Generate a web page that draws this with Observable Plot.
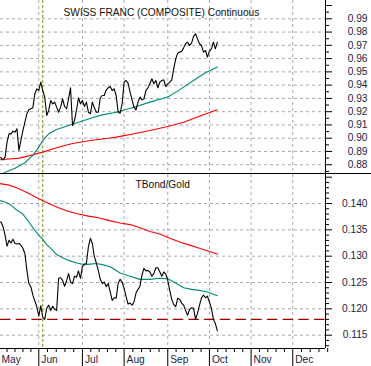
<!DOCTYPE html>
<html>
<head>
<meta charset="utf-8">
<script src="https://cdn.jsdelivr.net/npm/d3@7"></script>
<script src="https://cdn.jsdelivr.net/npm/@observablehq/plot@0.6"></script>
<style>
  html, body { margin: 0; padding: 0; background: #ffffff; }
  #chart { width: 371px; height: 366px; position: relative; overflow: hidden; background: #fff; }
  #chart svg { display: block; }
  .divider { width: 371px; height: 1px; background: #000; }
</style>
</head>
<body>
<div id="chart"></div>
<script>
// ---- x axis: trading-session index, 2010 (0 = May 3) ----
const monthNames  = ["May", "Jun", "Jul", "Aug", "Sep", "Oct", "Nov", "Dec"];
const monthStarts = [0, 20, 42, 63, 85, 106, 127, 148];
const nextYearStart = 170;
const eventDay = 22;

// ---- top panel: Swiss franc (composite) continuous ----
const chfTitle = "SWISS FRANC (COMPOSITE) Continuous";
const chfTickLabels = [0.88, 0.89, 0.90, 0.91, 0.92, 0.93, 0.94, 0.95, 0.96, 0.97, 0.98, 0.99];
const chfClose = [
  0.8857, 0.8852, 0.8837, 0.8857, 0.8970, 0.9033, 0.9033, 0.9053, 0.9046, 0.9071,
  0.8908, 0.8983, 0.9058, 0.9121, 0.9184, 0.9214, 0.9222, 0.9229, 0.9335, 0.9372,
  0.9360, 0.9423, 0.9360, 0.9310, 0.9171, 0.9209, 0.9284, 0.9259, 0.9272, 0.9234,
  0.9196, 0.9234, 0.9297, 0.9239, 0.9222, 0.9297, 0.9380, 0.9096, 0.9134, 0.9209,
  0.9305, 0.9259, 0.9284, 0.9239, 0.9272, 0.9196, 0.9184, 0.9272, 0.9229, 0.9196,
  0.9196, 0.9305, 0.9322, 0.9322, 0.9365, 0.9380, 0.9390, 0.9360, 0.9372, 0.9322,
  0.9196, 0.9189, 0.9259, 0.9423, 0.9435, 0.9415, 0.9347, 0.9289, 0.9234, 0.9214,
  0.9272, 0.9310, 0.9289, 0.9297, 0.9360, 0.9380, 0.9410, 0.9448, 0.9410, 0.9435,
  0.9380, 0.9423, 0.9435, 0.9440, 0.9390, 0.9410, 0.9423, 0.9440, 0.9523, 0.9598,
  0.9641, 0.9649, 0.9654, 0.9681, 0.9712, 0.9724, 0.9699, 0.9717, 0.9767, 0.9787,
  0.9749, 0.9712, 0.9699, 0.9649, 0.9661, 0.9611, 0.9656, 0.9674, 0.9724, 0.9674,
  0.9724
];
const chfMidDays = [0, 3, 8, 13, 17, 20, 22, 25, 29, 35, 42, 47, 52, 59, 68, 76, 85, 90, 98, 104, 110];
const chfMidAvg  = [0.8710, 0.8744, 0.8774, 0.8815, 0.8870, 0.8933, 0.8983, 0.9033, 0.9066, 0.9096,
                    0.9129, 0.9154, 0.9176, 0.9196, 0.9234, 0.9272, 0.9310, 0.9355, 0.9435, 0.9493, 0.9536];
const chfLongDays = [0, 10, 15, 22, 29, 37, 46, 56, 59, 68, 76, 85, 93, 102, 110];
const chfLongAvg  = [0.8837, 0.8850, 0.8867, 0.8895, 0.8928, 0.8960, 0.8983, 0.9001, 0.9008,
                     0.9033, 0.9058, 0.9088, 0.9121, 0.9171, 0.9214];

// ---- bottom panel: TBond / Gold ratio ----
const tbgTitle = "TBond/Gold";
const tbgTickLabels = [0.115, 0.120, 0.125, 0.130, 0.135, 0.140];
const tbgSupport = 0.118;
const tbgClose = [
  0.1365, 0.1365, 0.1356, 0.1340, 0.1319, 0.1330, 0.1325, 0.1332, 0.1324, 0.1323,
  0.1324, 0.1321, 0.1315, 0.1305, 0.1273, 0.1248, 0.1242, 0.1226, 0.1215, 0.1204,
  0.1186, 0.1206, 0.1184, 0.1180, 0.1201, 0.1207, 0.1197, 0.1205, 0.1199, 0.1197,
  0.1258, 0.1259, 0.1254, 0.1243, 0.1253, 0.1267, 0.1251, 0.1248, 0.1262, 0.1260,
  0.1272, 0.1258, 0.1280, 0.1285, 0.1286, 0.1318, 0.1334, 0.1324, 0.1299, 0.1287,
  0.1273, 0.1256, 0.1248, 0.1251, 0.1242, 0.1248, 0.1232, 0.1216, 0.1221, 0.1220,
  0.1248, 0.1256, 0.1251, 0.1239, 0.1223, 0.1209, 0.1211, 0.1207, 0.1213, 0.1230,
  0.1237, 0.1243, 0.1264, 0.1277, 0.1272, 0.1273, 0.1270, 0.1262, 0.1267, 0.1278,
  0.1278, 0.1270, 0.1262, 0.1270, 0.1266, 0.1254, 0.1235, 0.1218, 0.1208, 0.1204,
  0.1220, 0.1218, 0.1211, 0.1207, 0.1197, 0.1188, 0.1199, 0.1202, 0.1201, 0.1180,
  0.1192, 0.1207, 0.1221, 0.1226, 0.1221, 0.1224, 0.1213, 0.1201, 0.1180, 0.1172,
  0.1158
];
const tbgMidDays = [0, 3, 6, 9, 12, 15, 18, 20, 22, 24, 26, 29, 32, 35, 39, 43, 46, 49, 52, 56,
                    61, 66, 71, 76, 81, 85, 89, 93, 97, 101, 105, 110];
const tbgMidAvg  = [0.1406, 0.1403, 0.1397, 0.1387, 0.1380, 0.1365, 0.1349, 0.1340, 0.1332, 0.1322,
                    0.1315, 0.1303, 0.1297, 0.1292, 0.1287, 0.1284, 0.1285, 0.1286, 0.1284, 0.1280,
                    0.1268, 0.1262, 0.1256, 0.1256, 0.1258, 0.1257, 0.1249, 0.1240, 0.1237, 0.1235,
                    0.1232, 0.1225];
const tbgLongDays = [0, 5, 10, 15, 20, 25, 30, 35, 40, 45, 50, 56, 61, 66, 71, 76, 81, 86, 91, 96, 101, 106, 110];
const tbgLongAvg  = [0.1438, 0.1435, 0.1428, 0.1419, 0.1409, 0.1400, 0.1392, 0.1385, 0.1380, 0.1376,
                     0.1373, 0.1367, 0.1363, 0.1360, 0.1354, 0.1347, 0.1342, 0.1334, 0.1327, 0.1321,
                     0.1315, 0.1309, 0.1304];

// ---- shared settings ----
const xDomain   = [0.706, 164.5];
const topDomain = [0.8734, 1.0038];
const botDomain = [0.11247, 0.14551];
const font = "'Liberation Sans', Arial, sans-serif";
const grid = {stroke: "#a9a9a9", strokeOpacity: 1, strokeDasharray: "3,3"};
const olive = {stroke: "#8a8a10", strokeDasharray: "3,2"};
const cBlack = "#000000", cTeal = "#008a7a", cRed = "#ff0000";
const labelFill = "#1c1c44";

const boundaries = [...monthStarts, nextYearStart];
const minorX = [];
for (let k = 0; k < boundaries.length - 1; k++) {
  const a = boundaries[k], b = boundaries[k + 1];
  for (let j = 1; j < 5; j++) minorX.push(a + (b - a) * j / 5);
}
const stepTicks = (lo, hi, step) => d3.range(Math.ceil(lo / step - 1e-9), Math.floor(hi / step + 1e-9) + 1).map(k => +(k * step).toFixed(4));
const topMajor = stepTicks(topDomain[0], topDomain[1], 0.01);
const topMinor = stepTicks(topDomain[0], topDomain[1], 0.005).filter(v => !topMajor.some(m => Math.abs(m - v) < 1e-6));
const botMajor = stepTicks(botDomain[0], botDomain[1], 0.005);
const botMinor = stepTicks(botDomain[0], botDomain[1], 0.001).filter(v => !botMajor.some(m => Math.abs(m - v) < 1e-6));

const style = {background: "transparent", fontFamily: font, fontSize: "10.2px", color: "#111", overflow: "visible"};

const topPlot = Plot.plot({
  width: 371, height: 173,
  marginTop: 0, marginBottom: 0, marginLeft: 0, marginRight: 46,
  style,
  x: {domain: xDomain, axis: null},
  y: {domain: topDomain, axis: null},
  marks: [
    Plot.gridY({ticks: chfTickLabels, ...grid}),
    Plot.gridX({ticks: monthStarts.slice(1), ...grid}),
    Plot.ruleX([eventDay], olive),
    Plot.line(chfLongAvg, {x: chfLongDays, y: chfLongAvg, stroke: cRed, strokeWidth: 1.1, clip: true}),
    Plot.line(chfMidAvg, {x: chfMidDays, y: chfMidAvg, stroke: cTeal, strokeWidth: 1.1, clip: true}),
    Plot.line(chfClose, {x: (d, i) => i, y: d => d, stroke: cBlack, strokeWidth: 1.1, clip: true}),
    Plot.ruleX([xDomain[1]], {stroke: "#000"}),
    Plot.axisY({anchor: "right", ticks: topMajor, tickSize: 6, tickFormat: () => "", stroke: "#000"}),
    Plot.axisY({anchor: "right", ticks: topMinor, tickSize: 3, tickFormat: () => "", stroke: "#000"}),
    Plot.axisY({anchor: "right", ticks: chfTickLabels, tickSize: 0, tickPadding: 0, textAnchor: "end", dx: 42,
                tickFormat: d3.format(".2f"), fill: labelFill}),
    Plot.text([chfTitle], {frameAnchor: "top-left", dx: 63, dy: 12, textAnchor: "start", lineAnchor: "middle", fill: "#111"})
  ]
});

const botPlot = Plot.plot({
  width: 371, height: 192,
  marginTop: 0, marginBottom: 18, marginLeft: 0, marginRight: 46,
  style,
  x: {domain: xDomain, axis: null},
  y: {domain: botDomain, axis: null},
  marks: [
    Plot.gridY({ticks: tbgTickLabels, ...grid}),
    Plot.gridX({ticks: monthStarts.slice(1), ...grid}),
    Plot.ruleX([eventDay], olive),
    Plot.ruleY([tbgSupport], {stroke: "#a00000", strokeWidth: 1.4, strokeDasharray: "10.5,5.2"}),
    Plot.line(tbgLongAvg, {x: tbgLongDays, y: tbgLongAvg, stroke: cRed, strokeWidth: 1.1, clip: true}),
    Plot.line(tbgMidAvg, {x: tbgMidDays, y: tbgMidAvg, stroke: cTeal, strokeWidth: 1.1, clip: true}),
    Plot.line(tbgClose, {x: (d, i) => i, y: d => d, stroke: cBlack, strokeWidth: 1.1, clip: true}),
    Plot.ruleX([xDomain[1]], {stroke: "#000"}),
    Plot.ruleY([botDomain[0]], {stroke: "#000"}),
    Plot.axisY({anchor: "right", ticks: botMajor, tickSize: 6, tickFormat: () => "", stroke: "#000"}),
    Plot.axisY({anchor: "right", ticks: botMinor, tickSize: 3, tickFormat: () => "", stroke: "#000"}),
    Plot.axisY({anchor: "right", ticks: tbgTickLabels, tickSize: 0, tickPadding: 0, textAnchor: "end", dx: 42,
                tickFormat: d3.format(".3f"), fill: labelFill}),
    Plot.axisX({anchor: "bottom", ticks: monthStarts.slice(1), tickSize: 18, tickFormat: () => "", stroke: "#000"}),
    Plot.axisX({anchor: "bottom", ticks: minorX, tickSize: 4, tickFormat: () => "", stroke: "#000"}),
    Plot.text(monthStarts, {x: d => d, text: (d, i) => monthNames[i], frameAnchor: "bottom",
                            textAnchor: "start", lineAnchor: "middle", dx: 2.5, dy: 11, fill: labelFill}),
    Plot.text([tbgTitle], {frameAnchor: "top-left", dx: 135, dy: 10, textAnchor: "start", lineAnchor: "middle", fill: "#111"})
  ]
});

const root = document.getElementById("chart");
root.appendChild(topPlot);
const div = document.createElement("div");
div.className = "divider";
root.appendChild(div);
root.appendChild(botPlot);
</script>
</body>
</html>
